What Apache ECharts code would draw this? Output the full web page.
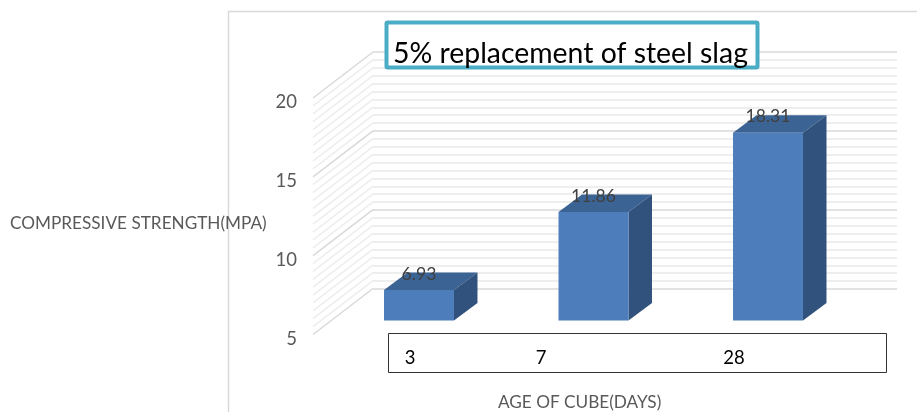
<!DOCTYPE html>
<html>
<head>
<meta charset="utf-8">
<style>html,body{margin:0;padding:0;background:#fff}#c{width:917px;height:412px}</style>
<script src="https://cdn.jsdelivr.net/npm/echarts@6/dist/echarts.min.js"></script>
</head>
<body>
<div id="c"></div>
<script>
var titleText = '5% replacement of steel slag';
var yAxisName = 'COMPRESSIVE STRENGTH(MPA)';
var xAxisName = 'AGE OF CUBE(DAYS)';
var categories = ['3', '7', '28'];
// Printed data labels
var valueLabels = ['6.93', '11.86', '18.31'];
// Bar heights as drawn in the picture (the third bar is drawn lower than its label)
var barHeights = [6.93, 11.86, 16.89];
var wallTicks = [5,5.5,6,6.5,7,7.5,8,8.5,9,9.5,10,10.5,11,11.5,12,12.5,13,13.5,14,14.5,15,15.5,16,16.5,17,17.5,18,18.5,19,19.5,20];
var majorTicks = [5,10,15,20];

var chart = echarts.init(document.getElementById('c'), null, {renderer:'canvas'});
var FONT = 'Lato';
var MAJOR = '#d9d9d9', MINOR = '#eeeeee';

function hiddenX(i){ return {type:'category',gridIndex:i,data:categories,show:false}; }

function renderWall(params, api){
  var v = api.value(0);
  var p = api.coord([0, v]);
  var x0 = 313;
  var major = majorTicks.indexOf(v) >= 0;
  return {type:'line', silent:true,
    shape:{x1:x0, y1:p[1], x2:x0+60, y2:p[1]-46},
    style:{stroke: major ? MAJOR : MINOR, lineWidth: major ? 1.5 : 1.6}};
}

function renderBar(params, api){
  var i = api.value(0);
  var top = api.coord([i, api.value(1)]);
  var base = api.coord([i, 5]);
  var w = api.size([1,0])[0] * 0.401;
  var dx = 23.5, dy = -17.5;
  var l = top[0]-w/2, r = top[0]+w/2;
  return {type:'group', children:[
    {type:'polygon', shape:{points:[[l,top[1]],[r,top[1]],[r+dx,top[1]+dy],[l+dx,top[1]+dy]]}, style:{fill:'#3b6393'}},
    {type:'polygon', shape:{points:[[r,top[1]],[r+dx,top[1]+dy],[r+dx,base[1]+dy],[r,base[1]]]}, style:{fill:'#30527c'}},
    {type:'rect', shape:{x:l,y:top[1],width:w,height:base[1]-top[1]}, style:{fill:'#4d7ebb'}},
    {type:'text', x:top[0], y:top[1]-16, style:{text:valueLabels[params.dataIndex], fill:'#404040',
      font:'17.6px '+FONT, align:'center', verticalAlign:'middle'}}
  ]};
}

var tickX = [410, 541, 734];
var tickGraphics = categories.map(function(c,i){
  return {type:'text', x:tickX[i], y:358, z:120, style:{text:c, fill:'#000', font:'18.5px '+FONT, align:'center', verticalAlign:'middle'}};
});

chart.setOption({
  animation:false,
  backgroundColor:'#fff',
  grid:[
    {left:373,right:20,top:52,bottom:123},
    {left:313,width:60,top:98,bottom:77.5},
    {left:331.75,right:61.75,top:83.5,bottom:91.5},
    {left:313,width:60,top:102.5,bottom:73}
  ],
  xAxis:[hiddenX(0),hiddenX(1),hiddenX(2),hiddenX(3)],
  yAxis:[
    {type:'value',gridIndex:0,min:5,max:20,interval:5,
      axisLine:{show:false},axisTick:{show:false},axisLabel:{show:false},
      splitLine:{show:true,lineStyle:{color:MAJOR,width:1.5}},
      minorTick:{show:false,splitNumber:10},
      minorSplitLine:{show:true,lineStyle:{color:MINOR,width:2}}},
    {type:'value',gridIndex:1,min:5,max:20,interval:5,show:false,splitLine:{show:false}},
    {type:'value',gridIndex:2,min:5,max:20,interval:5,show:false,splitLine:{show:false}},
    {type:'value',gridIndex:3,min:5,max:20,interval:5,
      axisLine:{show:false},axisTick:{show:false},splitLine:{show:false},
      axisLabel:{show:true,color:'#595959',fontFamily:FONT,fontSize:18.5,margin:16}}
  ],
  series:[
    {type:'custom',xAxisIndex:1,yAxisIndex:1,data:wallTicks.map(function(t){return [t];}),
      encode:{y:0},renderItem:renderWall,clip:false,z:2,silent:true},
    {type:'custom',xAxisIndex:2,yAxisIndex:2,
      data:barHeights.map(function(v,i){return [i,v];}),
      encode:{x:0,y:1},renderItem:renderBar,clip:false,z:5,silent:true}
  ],
  graphic:[
    {type:'polyline',z:100,shape:{points:[[228.5,412],[228.5,11.5],[917,11.5]]},style:{stroke:'#d9d9d9',lineWidth:1.5,fill:null}},
    {type:'rect',z:110,shape:{x:386.5,y:22.5,width:371,height:45,r:1},style:{fill:'#fff',stroke:'#4bacc6',lineWidth:4}},
    {type:'text',z:111,x:393,y:54,style:{text:titleText,fill:'#000',font:'28.4px '+FONT,align:'left',verticalAlign:'middle'}},
    {type:'rect',z:110,shape:{x:388.5,y:333.5,width:498,height:39},style:{fill:'#fff',stroke:'#333',lineWidth:1}},
    {type:'text',z:111,x:10,y:223,style:{text:yAxisName,fill:'#595959',font:'17.2px '+FONT,align:'left',verticalAlign:'middle'}},
    {type:'text',z:111,x:498,y:402,style:{text:xAxisName,fill:'#595959',font:'17.2px '+FONT,align:'left',verticalAlign:'middle'}}
  ].concat(tickGraphics)
});
</script>
</body>
</html>
